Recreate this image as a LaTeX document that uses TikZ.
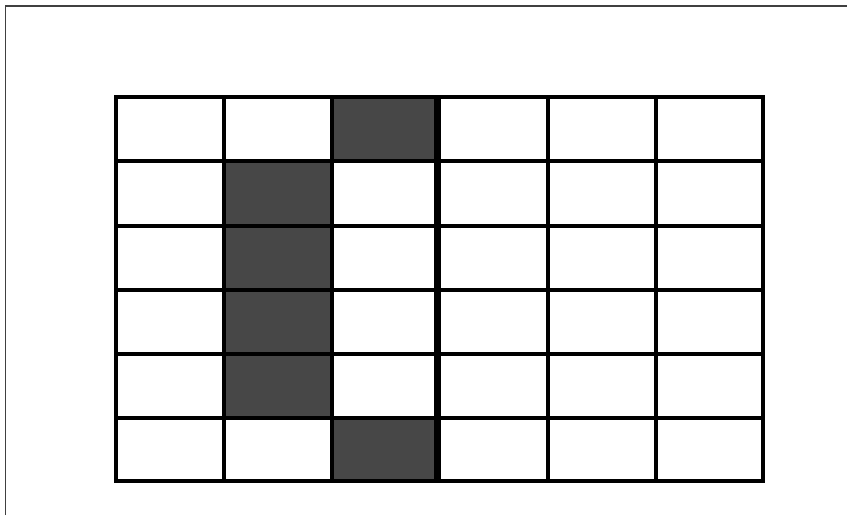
\documentclass[tikz,border=0pt]{standalone}
\begin{document}
\begin{tikzpicture}[x=1pt,y=-1pt,
  gridline/.style={line width=3.2pt,black},
  shade/.style={fill=black!72},
  frame/.style={line width=1.3pt,black!75}]
\useasboundingbox (0,0) rectangle (847,515);
\fill[white] (0,0) rectangle (847,515);
% frame (left and top edges)
\draw[frame] (5.5,515) -- (5.5,6) -- (847,6);
% shaded cells
\fill[shade] (332,97) rectangle (437,161);
\fill[shade] (332,418) rectangle (437,481);
\fill[shade] (224,161) rectangle (332,418);
% grid
\foreach \x in {116,224,332,548,656,763}
  \draw[gridline] (\x,97) -- (\x,481);
\foreach \y in {97,161,226,290,354,418,481}
  \draw[gridline] (116,\y) -- (763,\y);
\draw[gridline,line cap=rect] (116,97) rectangle (763,481);
% thick divider
\draw[line width=7pt] (437,95) -- (437,483);
\end{tikzpicture}
\end{document}
